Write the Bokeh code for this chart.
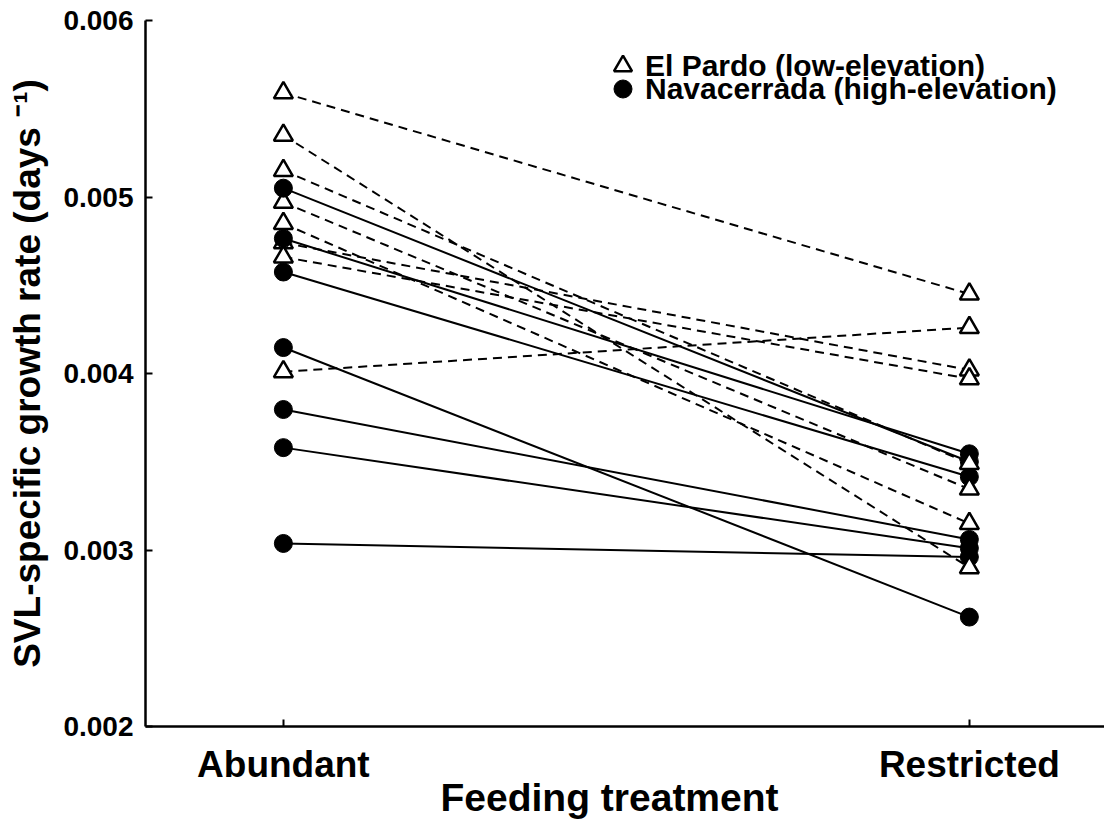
from bokeh.plotting import figure
from bokeh.models import Range1d, FixedTicker, PrintfTickFormatter, Legend, LegendItem, Title
from bokeh.embed import file_html
from bokeh.resources import INLINE

treatments = ["Abundant", "Restricted"]

# El Pardo (low-elevation): paired values per family, abundant -> restricted
elpardo_abundant = [0.00559, 0.00535, 0.00515, 0.00497, 0.00485, 0.00474, 0.00466, 0.00401]
elpardo_restricted = [0.00445, 0.00290, 0.00349, 0.003345, 0.00315, 0.00402, 0.00397, 0.00426]

# Navacerrada (high-elevation)
nava_abundant = [0.00505, 0.004765, 0.004575, 0.004147, 0.003796, 0.00358, 0.003037]
nava_restricted = [0.00350, 0.003545, 0.003415, 0.00262, 0.00306, 0.00301, 0.00296]

y_ticks = [0.002, 0.003, 0.004, 0.005, 0.006]

FONT = "Liberation Sans"

p = figure(width=1104, height=823, output_backend="svg", toolbar_location=None,
           x_range=Range1d(-0.201, 1.197), y_range=Range1d(0.002, 0.006),
           min_border_left=145, min_border_right=0, min_border_top=20, min_border_bottom=97)
p.outline_line_color = None
p.grid.visible = False
p.background_fill_color = "white"
p.border_fill_color = "white"

xi = list(range(len(treatments)))

ep_xs = [xi for _ in elpardo_abundant]
ep_ys = [[a, r] for a, r in zip(elpardo_abundant, elpardo_restricted)]
nv_xs = [xi for _ in nava_abundant]
nv_ys = [[a, r] for a, r in zip(nava_abundant, nava_restricted)]

p.multi_line(ep_xs, ep_ys, line_color="black", line_width=2, line_dash="9 6")
p.multi_line(nv_xs, nv_ys, line_color="black", line_width=2)

tri_kw = dict(marker="triangle", size=19, fill_color="white", line_color="black", line_width=2.5)
circ_kw = dict(marker="circle", size=18, fill_color="black", line_color="black", line_width=1)

tri_left = p.scatter([xi[0]] * len(elpardo_abundant), elpardo_abundant, **tri_kw)
circ = p.scatter([xi[0]] * len(nava_abundant) + [xi[1]] * len(nava_restricted),
                 nava_abundant + nava_restricted, **circ_kw)
tri_right = p.scatter([xi[1]] * len(elpardo_restricted), elpardo_restricted, **tri_kw)

# axes
p.xaxis.ticker = FixedTicker(ticks=xi)
p.xaxis.major_label_overrides = {i: t for i, t in zip(xi, treatments)}
p.yaxis.ticker = FixedTicker(ticks=y_ticks)
p.yaxis.formatter = PrintfTickFormatter(format="%.3f")

for ax in (p.xaxis[0], p.yaxis[0]):
    ax.axis_line_color = "black"
    ax.axis_line_width = 2.5
    ax.major_tick_line_color = "black"
    ax.major_tick_line_width = 2
    ax.major_tick_in = 7
    ax.major_tick_out = 0
    ax.minor_tick_line_color = None
    ax.major_label_text_font = FONT
    ax.major_label_text_font_style = "bold"
    ax.major_label_text_color = "black"

p.xaxis.major_label_text_font_size = "37px"
p.xaxis.major_label_standoff = 17
p.yaxis.major_label_text_font_size = "28px"
p.yaxis.major_label_standoff = 12

p.yaxis.axis_label = "SVL-specific growth rate (days \u207b\u00b9)"
p.yaxis.axis_label_text_font = FONT
p.yaxis.axis_label_text_font_style = "bold"
p.yaxis.axis_label_text_font_size = "37px"
p.yaxis.axis_label_text_color = "black"
p.yaxis.axis_label_standoff = 12

# x-axis title below the tick labels, shifted left of the frame centre as in the original
p.add_layout(Title(text="Feeding treatment", align="left", offset=295,
                   text_font_size="39px", text_font_style="bold", text_font=FONT,
                   text_color="black", standoff=-28), "below")

leg_kw = dict(label_text_font=FONT, label_text_font_style="bold", label_text_font_size="30px",
              label_text_color="black", glyph_width=45, glyph_height=45, padding=0, margin=0,
              spacing=0, label_standoff=0, border_line_color=None, background_fill_alpha=0)
leg1 = Legend(items=[LegendItem(label="El Pardo (low-elevation)", renderers=[tri_left])],
              location=(455, 638), **leg_kw)
leg2 = Legend(items=[LegendItem(label="Navacerrada (high-elevation)", renderers=[circ])],
              location=(455, 615), **leg_kw)
p.add_layout(leg1)
p.add_layout(leg2)

open("out.html", "w").write(file_html(p, INLINE))
